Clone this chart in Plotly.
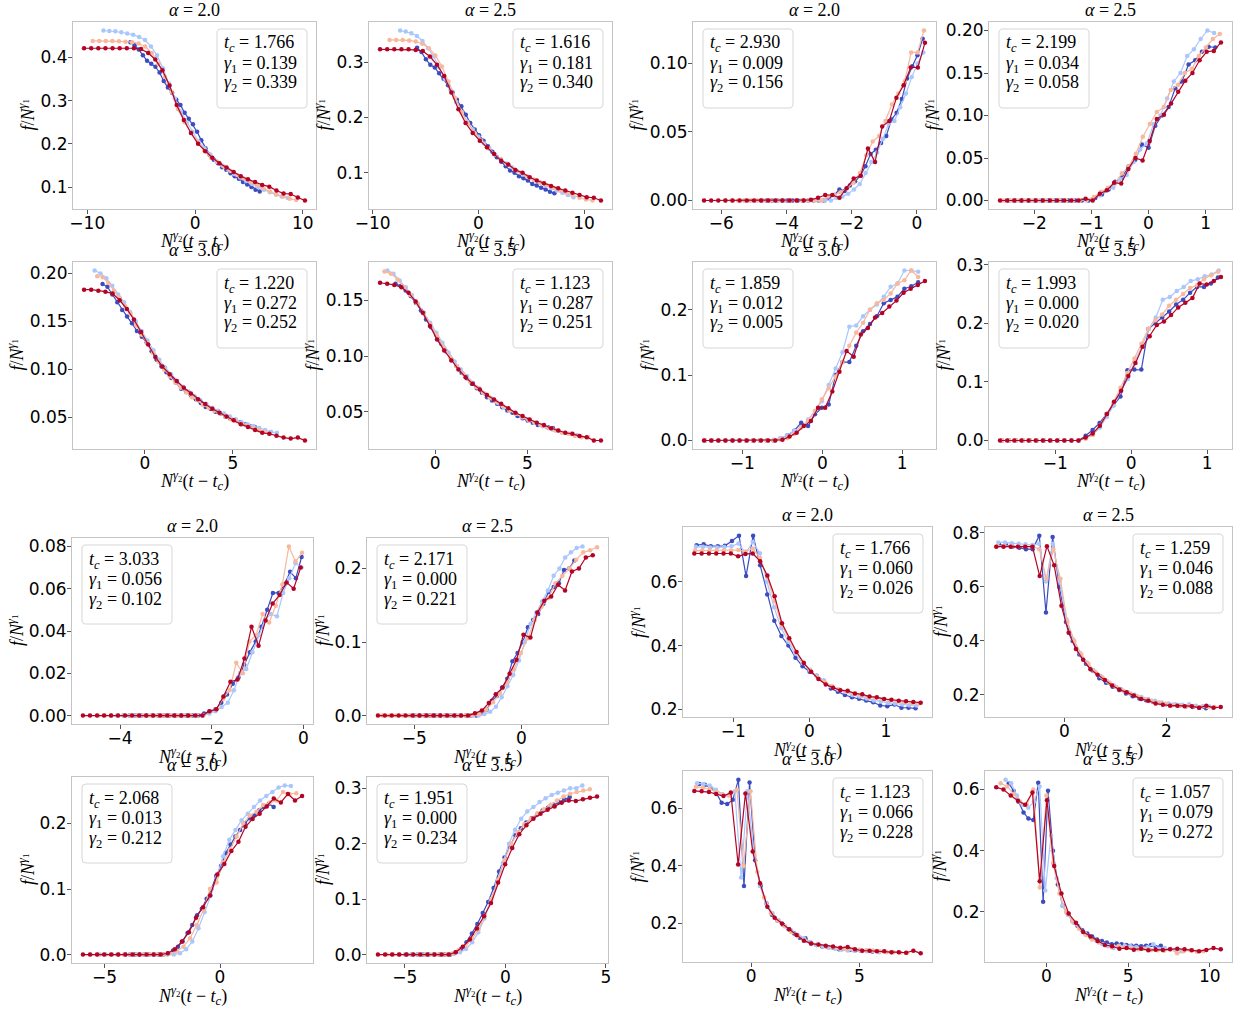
import numpy as np
import plotly.graph_objects as go

# ---------------------------------------------------------------------------
# Scaling-collapse data: f / N^gamma1 against N^gamma2 (t - t_c).
# Each panel holds four system sizes (small -> large).  Every series is
# sampled on a uniform time grid, so its scaled abscissa is given by the
# first/last scaled time in *_spans and the number of samples.
# ---------------------------------------------------------------------------

ALPHAS = ["2.0", "2.5", "3.0", "3.5"]

# ---- group A (top left) ----
a1_params = ("1.766", "0.139", "0.339")
a1_spans = [(-6.0, 6.0), (-8.5, 8.6), (-9.5, 9.4), (-10.3, 10.2)]
a1_d = [0.435, 0.428, 0.418, 0.405, 0.392, 0.385, 0.378, 0.365, 0.345, 0.33, 0.318, 0.302, 0.29, 0.272, 0.258, 0.245,
        0.228, 0.208, 0.19, 0.175, 0.163, 0.155, 0.146, 0.14, 0.132, 0.125, 0.119, 0.112, 0.106, 0.1, 0.094, 0.09]
a1_l = [0.462, 0.461, 0.46, 0.458, 0.455, 0.452, 0.447, 0.44, 0.425, 0.405, 0.375, 0.34, 0.305, 0.275, 0.25, 0.228,
        0.205, 0.19, 0.175, 0.16, 0.15, 0.14, 0.13, 0.122, 0.114, 0.107, 0.1, 0.094, 0.088, 0.083, 0.078, 0.075]
a1_s = [0.438, 0.438, 0.438, 0.438, 0.437, 0.436, 0.435, 0.432, 0.425, 0.41, 0.385, 0.355, 0.32, 0.28, 0.25, 0.225,
        0.205, 0.185, 0.168, 0.158, 0.147, 0.137, 0.128, 0.12, 0.112, 0.104, 0.097, 0.09, 0.083, 0.078, 0.073, 0.07]
a1_r = [0.421, 0.421, 0.421, 0.421, 0.421, 0.421, 0.421, 0.421, 0.419, 0.41, 0.395, 0.37, 0.335, 0.29, 0.255, 0.225,
        0.2, 0.183, 0.168, 0.155, 0.145, 0.135, 0.125, 0.118, 0.112, 0.105, 0.101, 0.092, 0.085, 0.084, 0.076, 0.069]

a2_params = ("1.616", "0.181", "0.340")
a2_spans = [(-5.8, 7.2), (-7.4, 9.0), (-8.4, 10.8), (-9.3, 11.6)]
a2_d = [0.326, 0.318, 0.305, 0.295, 0.29, 0.28, 0.27, 0.258, 0.245, 0.232, 0.22, 0.205, 0.19, 0.178, 0.168, 0.158,
        0.148, 0.138, 0.128, 0.12, 0.112, 0.104, 0.1, 0.094, 0.09, 0.086, 0.08, 0.077, 0.073, 0.07, 0.066, 0.063]
a2_l = [0.357, 0.355, 0.352, 0.347, 0.338, 0.325, 0.31, 0.29, 0.27, 0.25, 0.228, 0.21, 0.192, 0.178, 0.165, 0.153,
        0.143, 0.133, 0.125, 0.117, 0.11, 0.103, 0.097, 0.092, 0.087, 0.082, 0.077, 0.072, 0.068, 0.064, 0.06, 0.056]
a2_s = [0.34, 0.34, 0.34, 0.339, 0.337, 0.333, 0.325, 0.312, 0.292, 0.265, 0.235, 0.21, 0.188, 0.172, 0.158, 0.145,
        0.134, 0.124, 0.116, 0.107, 0.1, 0.094, 0.088, 0.083, 0.078, 0.073, 0.068, 0.064, 0.06, 0.055, 0.052, 0.05]
a2_r = [0.323, 0.323, 0.323, 0.323, 0.323, 0.322, 0.32, 0.31, 0.295, 0.275, 0.245, 0.215, 0.19, 0.172, 0.158, 0.146,
        0.134, 0.122, 0.115, 0.105, 0.1, 0.092, 0.086, 0.081, 0.076, 0.072, 0.068, 0.064, 0.06, 0.056, 0.055, 0.05]

a3_params = ("1.220", "0.272", "0.252")
a3_spans = [(-2.4, 6.24), (-2.85, 7.5), (-2.7, 7.1), (-3.45, 9.09)]
a3_d = [0.189, 0.186, 0.178, 0.17, 0.162, 0.155, 0.148, 0.14, 0.134, 0.128, 0.119, 0.11, 0.103, 0.097, 0.091, 0.086,
        0.08, 0.077, 0.073, 0.069, 0.065, 0.061, 0.059, 0.056, 0.054, 0.051, 0.049, 0.047, 0.045, 0.043, 0.041, 0.04]
a3_l = [0.203, 0.2, 0.195, 0.187, 0.178, 0.17, 0.16, 0.15, 0.14, 0.13, 0.12, 0.11, 0.102, 0.095, 0.088, 0.082,
        0.077, 0.072, 0.068, 0.064, 0.06, 0.057, 0.054, 0.051, 0.048, 0.045, 0.043, 0.041, 0.039, 0.037, 0.035, 0.034]
a3_s = [0.197, 0.196, 0.19, 0.182, 0.175, 0.166, 0.158, 0.146, 0.136, 0.127, 0.117, 0.108, 0.1, 0.093, 0.086, 0.081,
        0.076, 0.071, 0.068, 0.063, 0.06, 0.057, 0.054, 0.051, 0.048, 0.046, 0.043, 0.041, 0.039, 0.037, 0.035, 0.033]
a3_r = [0.183, 0.183, 0.182, 0.181, 0.179, 0.172, 0.163, 0.152, 0.139, 0.126, 0.113, 0.103, 0.095, 0.088, 0.081, 0.075,
        0.069, 0.064, 0.059, 0.055, 0.051, 0.047, 0.043, 0.04, 0.037, 0.034, 0.033, 0.031, 0.029, 0.028, 0.029, 0.026]

a4_params = ("1.123", "0.287", "0.251")
a4_spans = [(-2.16, 6.4), (-2.6, 7.7), (-2.76, 8.3), (-3.0, 9.0)]
a4_d = [0.165, 0.163, 0.159, 0.154, 0.148, 0.141, 0.133, 0.126, 0.119, 0.111, 0.104, 0.097, 0.091, 0.085, 0.08, 0.075,
        0.071, 0.067, 0.063, 0.06, 0.057, 0.054, 0.051, 0.049, 0.046, 0.044, 0.042, 0.04, 0.038, 0.037, 0.036, 0.035]
a4_l = [0.177, 0.174, 0.168, 0.162, 0.155, 0.147, 0.139, 0.13, 0.121, 0.112, 0.103, 0.095, 0.088, 0.082, 0.076, 0.071,
        0.066, 0.062, 0.058, 0.054, 0.051, 0.048, 0.045, 0.043, 0.04, 0.038, 0.036, 0.034, 0.033, 0.031, 0.03, 0.029]
a4_s = [0.176, 0.174, 0.169, 0.162, 0.155, 0.147, 0.138, 0.128, 0.118, 0.108, 0.099, 0.091, 0.084, 0.077, 0.072, 0.067,
        0.063, 0.059, 0.055, 0.051, 0.048, 0.045, 0.042, 0.04, 0.037, 0.035, 0.033, 0.031, 0.03, 0.028, 0.027, 0.027]
a4_r = [0.166, 0.165, 0.164, 0.162, 0.157, 0.149, 0.139, 0.127, 0.115, 0.105, 0.096, 0.088, 0.081, 0.075, 0.07, 0.065,
        0.061, 0.057, 0.053, 0.049, 0.046, 0.043, 0.04, 0.038, 0.035, 0.033, 0.031, 0.03, 0.028, 0.027, 0.024, 0.024]

# ---- group B (top right) ----
b1_params = ("2.930", "0.009", "0.156")
b1_spans = [(-4.77, 0.18), (-5.3, 0.2), (-5.88, 0.22), (-6.53, 0.25)]
b1_d = [0, 0, 0, 0, 0, 0, 0, 0, 0, 0, 0, 0, 0, 0.002, 0.004, 0.008, 0.007, 0.011, 0.014, 0.018, 0.025, 0.034,
        0.037, 0.042, 0.047, 0.059, 0.064, 0.074, 0.089, 0.098, 0.106, 0.118]
b1_l = [0, 0, 0, 0, 0, 0, 0, 0, 0, 0, 0, 0, 0, 0, 0, 0, 0.002, 0.003, 0.005, 0.008, 0.012, 0.02, 0.028, 0.035,
        0.045, 0.056, 0.058, 0.068, 0.078, 0.09, 0.1, 0.108]
b1_s = [0, 0, 0, 0, 0, 0, 0, 0, 0, 0, 0, 0, 0, 0, 0, 0, 0.003, 0.004, 0.006, 0.009, 0.013, 0.02, 0.033, 0.043,
        0.047, 0.058, 0.07, 0.078, 0.087, 0.108, 0.108, 0.124]
b1_r = [0, 0, 0, 0, 0, 0, 0, 0, 0, 0, 0, 0, 0, 0, 0, 0.0005, 0.002, 0.004, 0.004, 0.002, 0.009, 0.016, 0.018,
        0.038, 0.028, 0.054, 0.058, 0.075, 0.084, 0.097, 0.097, 0.115]

b2_params = ("2.199", "0.034", "0.058")
b2_spans = [(-2.45, 1.17), (-2.5, 1.15), (-2.55, 1.25), (-2.6, 1.27)]
b2_d = [0, 0, 0, 0, 0, 0, 0, 0, 0, 0, 0, 0, 0, 0.003, 0.007, 0.013, 0.022, 0.027, 0.04, 0.048, 0.066, 0.062,
        0.088, 0.1, 0.11, 0.132, 0.14, 0.16, 0.165, 0.175, 0.181, 0.18]
b2_l = [0, 0, 0, 0, 0, 0, 0, 0, 0, 0, 0, 0, 0, 0.002, 0.006, 0.012, 0.015, 0.025, 0.03, 0.045, 0.06, 0.067,
        0.09, 0.1, 0.12, 0.14, 0.15, 0.17, 0.178, 0.19, 0.2, 0.197]
b2_s = [0, 0, 0, 0, 0, 0, 0, 0, 0, 0, 0, 0, 0.001, 0.004, 0.01, 0.015, 0.02, 0.032, 0.04, 0.055, 0.075, 0.09,
        0.104, 0.11, 0.13, 0.136, 0.15, 0.155, 0.17, 0.18, 0.19, 0.196]
b2_r = [0, 0, 0, 0, 0, 0, 0, 0, 0, 0, 0, 0, 0.002, 0.0, 0.008, 0.012, 0.021, 0.02, 0.037, 0.05, 0.047, 0.07,
        0.096, 0.101, 0.114, 0.128, 0.141, 0.15, 0.165, 0.175, 0.176, 0.186]

b3_params = ("1.859", "0.012", "0.005")
b3_spans = [(-1.47, 1.2), (-1.47, 1.2), (-1.47, 1.2), (-1.48, 1.285)]
b3_d = [0, 0, 0, 0, 0, 0, 0, 0, 0, 0, 0.0, 0.003, 0.008, 0.015, 0.027, 0.022, 0.04, 0.05, 0.055, 0.1, 0.12, 0.12,
        0.145, 0.167, 0.178, 0.19, 0.21, 0.215, 0.22, 0.232, 0.236, 0.242]
b3_l = [0, 0, 0, 0, 0, 0, 0, 0, 0, 0, 0.001, 0.004, 0.008, 0.015, 0.02, 0.032, 0.045, 0.06, 0.085, 0.11, 0.135,
        0.174, 0.176, 0.19, 0.2, 0.208, 0.22, 0.235, 0.24, 0.26, 0.26, 0.258]
b3_s = [0, 0, 0, 0, 0, 0, 0, 0, 0, 0, 0.0, 0.002, 0.004, 0.01, 0.02, 0.03, 0.045, 0.063, 0.08, 0.098, 0.12, 0.145,
        0.165, 0.18, 0.2, 0.21, 0.215, 0.225, 0.24, 0.245, 0.26, 0.25]
b3_r = [0, 0, 0, 0, 0, 0, 0, 0, 0, 0, 0, 0.001, 0.006, 0.012, 0.022, 0.03, 0.05, 0.05, 0.075, 0.105, 0.137, 0.128,
        0.162, 0.172, 0.188, 0.195, 0.205, 0.214, 0.226, 0.232, 0.238, 0.244]

b4_params = ("1.993", "0.000", "0.020")
b4_spans = [(-1.7, 1.14), (-1.7, 1.15), (-1.7, 1.14), (-1.727, 1.18)]
b4_d = [0, 0, 0, 0, 0, 0, 0, 0, 0, 0, 0, 0, 0.008, 0.018, 0.03, 0.045, 0.06, 0.075, 0.12, 0.121, 0.121, 0.19,
        0.2, 0.21, 0.22, 0.232, 0.24, 0.252, 0.262, 0.262, 0.268, 0.278]
b4_l = [0, 0, 0, 0, 0, 0, 0, 0, 0, 0, 0, 0, 0.004, 0.01, 0.022, 0.04, 0.06, 0.085, 0.105, 0.135, 0.16, 0.19,
        0.21, 0.24, 0.245, 0.255, 0.262, 0.272, 0.275, 0.28, 0.283, 0.29]
b4_s = [0, 0, 0, 0, 0, 0, 0, 0, 0, 0, 0, 0, 0.003, 0.01, 0.025, 0.045, 0.065, 0.09, 0.115, 0.14, 0.165, 0.19,
        0.205, 0.215, 0.23, 0.24, 0.25, 0.26, 0.265, 0.275, 0.282, 0.288]
b4_r = [0, 0, 0, 0, 0, 0, 0, 0, 0, 0, 0, 0, 0.005, 0.012, 0.025, 0.045, 0.066, 0.085, 0.11, 0.132, 0.16, 0.178,
        0.197, 0.203, 0.214, 0.227, 0.235, 0.243, 0.268, 0.266, 0.272, 0.279]

# ---- group C (bottom left) ----
c1_params = ("3.033", "0.056", "0.102")
c1_spans = [(-3.92, -0.04), (-4.2, -0.04), (-4.48, -0.03), (-4.81, -0.06)]
c1_d = [0, 0, 0, 0, 0, 0, 0, 0, 0, 0, 0, 0, 0, 0, 0.001, 0.002, 0.003, 0.006, 0.01, 0.015, 0.018, 0.024, 0.03,
        0.035, 0.042, 0.05, 0.058, 0.058, 0.062, 0.068, 0.065, 0.075]
c1_l = [0, 0, 0, 0, 0, 0, 0, 0, 0, 0, 0, 0, 0, 0, 0, 0, 0.001, 0.002, 0.004, 0.006, 0.012, 0.02, 0.022, 0.03,
        0.038, 0.045, 0.048, 0.047, 0.058, 0.065, 0.072, 0.07]
c1_s = [0, 0, 0, 0, 0, 0, 0, 0, 0, 0, 0, 0, 0, 0, 0, 0, 0, 0.002, 0.003, 0.008, 0.012, 0.025, 0.02, 0.035, 0.038,
        0.048, 0.044, 0.052, 0.062, 0.08, 0.073, 0.077]
c1_r = [0, 0, 0, 0, 0, 0, 0, 0, 0, 0, 0, 0, 0, 0, 0, 0, 0, 0, 0.002, 0.003, 0.009, 0.016, 0.017, 0.027, 0.042,
        0.033, 0.045, 0.053, 0.057, 0.063, 0.06, 0.07]

c2_params = ("2.171", "0.000", "0.221")
c2_spans = [(-5.0, 2.47), (-5.5, 2.85), (-6.5, 3.53), (-6.7, 3.33)]
c2_d = [0, 0, 0, 0, 0, 0, 0, 0, 0, 0, 0, 0, 0, 0.003, 0.008, 0.02, 0.027, 0.038, 0.05, 0.074, 0.085, 0.1, 0.12,
        0.13, 0.138, 0.152, 0.168, 0.175, 0.18, 0.198, 0.2, 0.211]
c2_l = [0, 0, 0, 0, 0, 0, 0, 0, 0, 0, 0, 0, 0, 0, 0.002, 0.005, 0.012, 0.025, 0.04, 0.055, 0.075, 0.1, 0.125,
        0.14, 0.155, 0.17, 0.19, 0.2, 0.215, 0.222, 0.228, 0.23]
c2_s = [0, 0, 0, 0, 0, 0, 0, 0, 0, 0, 0, 0, 0, 0, 0.002, 0.008, 0.018, 0.03, 0.045, 0.063, 0.085, 0.105, 0.13,
        0.148, 0.16, 0.18, 0.19, 0.2, 0.212, 0.222, 0.225, 0.229]
c2_r = [0, 0, 0, 0, 0, 0, 0, 0, 0, 0, 0, 0, 0, 0, 0.003, 0.007, 0.017, 0.029, 0.038, 0.057, 0.076, 0.11, 0.106,
        0.14, 0.156, 0.162, 0.178, 0.17, 0.196, 0.2, 0.215, 0.218]

c3_params = ("2.068", "0.013", "0.212")
c3_spans = [(-4.1, 2.32), (-5.2, 3.07), (-5.6, 3.3), (-5.93, 3.55)]
c3_d = [0, 0, 0, 0, 0, 0, 0, 0, 0, 0.002, 0.006, 0.012, 0.02, 0.033, 0.045, 0.06, 0.07, 0.085, 0.1, 0.12, 0.135,
        0.155, 0.168, 0.18, 0.19, 0.2, 0.208, 0.213, 0.22, 0.225, 0.23, 0.225]
c3_l = [0, 0, 0, 0, 0, 0, 0, 0, 0, 0, 0, 0, 0, 0.002, 0.008, 0.02, 0.04, 0.065, 0.09, 0.12, 0.15, 0.175, 0.19,
        0.205, 0.215, 0.225, 0.235, 0.242, 0.248, 0.255, 0.258, 0.257]
c3_s = [0, 0, 0, 0, 0, 0, 0, 0, 0, 0, 0, 0, 0.002, 0.005, 0.012, 0.025, 0.045, 0.068, 0.1, 0.11, 0.14, 0.16, 0.18,
        0.2, 0.212, 0.218, 0.228, 0.232, 0.235, 0.248, 0.245, 0.246]
c3_r = [0, 0, 0, 0, 0, 0, 0, 0, 0, 0, 0, 0, 0.002, 0.008, 0.02, 0.034, 0.056, 0.072, 0.09, 0.122, 0.138, 0.158,
        0.172, 0.195, 0.207, 0.215, 0.226, 0.238, 0.232, 0.245, 0.235, 0.242]

c4_params = ("1.951", "0.000", "0.234")
c4_spans = [(-4.9, 3.2), (-5.6, 3.83), (-5.9, 4.2), (-6.33, 4.56)]
c4_d = [0, 0, 0, 0, 0, 0, 0, 0, 0, 0.004, 0.01, 0.022, 0.038, 0.055, 0.075, 0.095, 0.12, 0.15, 0.175, 0.195,
        0.215, 0.228, 0.238, 0.246, 0.252, 0.26, 0.265, 0.27, 0.275, 0.28, 0.284]
c4_l = [0, 0, 0, 0, 0, 0, 0, 0, 0, 0, 0.001, 0.004, 0.01, 0.022, 0.04, 0.065, 0.095, 0.128, 0.165, 0.2, 0.225,
        0.245, 0.258, 0.266, 0.275, 0.282, 0.288, 0.292, 0.296, 0.3, 0.3, 0.305]
c4_s = [0, 0, 0, 0, 0, 0, 0, 0, 0, 0, 0.002, 0.008, 0.016, 0.028, 0.045, 0.07, 0.1, 0.135, 0.17, 0.2, 0.22,
        0.235, 0.245, 0.255, 0.262, 0.27, 0.278, 0.285, 0.29, 0.293, 0.296, 0.298]
c4_r = [0, 0, 0, 0, 0, 0, 0, 0, 0, 0, 0, 0.004, 0.014, 0.027, 0.047, 0.069, 0.093, 0.13, 0.163, 0.192, 0.217,
        0.233, 0.245, 0.254, 0.261, 0.267, 0.274, 0.278, 0.277, 0.28, 0.283, 0.285]

# ---- group D (bottom right) ----
d1_params = ("1.766", "0.060", "0.026")
d1_spans = [(-1.48, 1.39), (-1.49, 1.4), (-1.5, 1.43), (-1.51, 1.457)]
d1_d = [0.715, 0.718, 0.712, 0.712, 0.713, 0.728, 0.745, 0.618, 0.745, 0.652, 0.56, 0.478, 0.43, 0.4, 0.362, 0.335,
        0.318, 0.305, 0.29, 0.265, 0.255, 0.245, 0.238, 0.233, 0.228, 0.222, 0.212, 0.21, 0.215, 0.205, 0.205, 0.203]
d1_l = [0.71, 0.71, 0.708, 0.708, 0.709, 0.712, 0.72, 0.69, 0.725, 0.69, 0.6, 0.52, 0.455, 0.412, 0.375, 0.345,
        0.325, 0.305, 0.29, 0.272, 0.262, 0.254, 0.245, 0.24, 0.234, 0.228, 0.225, 0.22, 0.218, 0.215, 0.213, 0.212]
d1_s = [0.698, 0.698, 0.698, 0.698, 0.698, 0.698, 0.7, 0.695, 0.705, 0.675, 0.615, 0.54, 0.465, 0.42, 0.38, 0.348,
        0.322, 0.3, 0.285, 0.272, 0.262, 0.255, 0.248, 0.243, 0.238, 0.235, 0.232, 0.228, 0.225, 0.222, 0.22, 0.218]
d1_r = [0.689, 0.689, 0.689, 0.689, 0.689, 0.689, 0.68, 0.687, 0.689, 0.665, 0.62, 0.555, 0.47, 0.423, 0.38, 0.345,
        0.318, 0.295, 0.278, 0.268, 0.26, 0.258, 0.25, 0.247, 0.24, 0.238, 0.232, 0.23, 0.227, 0.225, 0.223, 0.221]

d2_params = ("1.259", "0.046", "0.088")
d2_spans = [(-1.28, 2.78), (-1.3, 2.85), (-1.32, 2.95), (-1.34, 3.07)]
d2_d = [0.755, 0.755, 0.75, 0.745, 0.74, 0.74, 0.79, 0.505, 0.785, 0.6, 0.47, 0.4, 0.35, 0.315, 0.29, 0.262,
        0.245, 0.23, 0.218, 0.205, 0.195, 0.187, 0.18, 0.175, 0.17, 0.165, 0.162, 0.16, 0.158, 0.155, 0.152, 0.15]
d2_l = [0.765, 0.765, 0.762, 0.76, 0.758, 0.755, 0.76, 0.62, 0.76, 0.62, 0.48, 0.405, 0.355, 0.32, 0.29, 0.27,
        0.25, 0.235, 0.222, 0.21, 0.2, 0.192, 0.185, 0.178, 0.172, 0.168, 0.165, 0.163, 0.165, 0.16, 0.158, 0.157]
d2_s = [0.752, 0.752, 0.752, 0.75, 0.75, 0.75, 0.74, 0.63, 0.74, 0.63, 0.47, 0.4, 0.35, 0.315, 0.285, 0.265,
        0.245, 0.228, 0.215, 0.205, 0.195, 0.185, 0.178, 0.172, 0.167, 0.163, 0.16, 0.158, 0.158, 0.155, 0.155, 0.155]
d2_r = [0.749, 0.749, 0.749, 0.749, 0.749, 0.749, 0.64, 0.751, 0.68, 0.53, 0.43, 0.37, 0.33, 0.295, 0.275, 0.255,
        0.235, 0.22, 0.21, 0.198, 0.185, 0.178, 0.168, 0.163, 0.16, 0.16, 0.158, 0.158, 0.152, 0.16, 0.152, 0.155]

d3_params = ("1.123", "0.066", "0.228")
d3_spans = [(-2.4, 5.6), (-2.5, 6.5), (-2.55, 7.2), (-2.63, 7.83)]
d3_d = [0.685, 0.682, 0.672, 0.655, 0.62, 0.615, 0.63, 0.7, 0.33, 0.69, 0.42, 0.33, 0.27, 0.23, 0.21, 0.195,
        0.18, 0.165, 0.15, 0.148, 0.13, 0.125, 0.12, 0.118, 0.115, 0.11, 0.112, 0.108, 0.107, 0.105, 0.105, 0.102]
d3_l = [0.688, 0.685, 0.68, 0.665, 0.65, 0.645, 0.66, 0.36, 0.66, 0.45, 0.33, 0.27, 0.235, 0.21, 0.19, 0.175,
        0.16, 0.148, 0.135, 0.125, 0.12, 0.115, 0.112, 0.108, 0.106, 0.105, 0.104, 0.103, 0.105, 0.1, 0.102, 0.1]
d3_s = [0.675, 0.672, 0.668, 0.658, 0.648, 0.645, 0.665, 0.4, 0.66, 0.38, 0.29, 0.235, 0.21, 0.19, 0.17, 0.155,
        0.14, 0.13, 0.125, 0.12, 0.117, 0.113, 0.11, 0.11, 0.108, 0.106, 0.105, 0.103, 0.1, 0.1, 0.098, 0.097]
d3_r = [0.661, 0.66, 0.657, 0.65, 0.643, 0.655, 0.405, 0.652, 0.45, 0.34, 0.258, 0.22, 0.2, 0.18, 0.16, 0.14,
        0.13, 0.127, 0.122, 0.12, 0.115, 0.118, 0.11, 0.105, 0.105, 0.103, 0.103, 0.1, 0.1, 0.098, 0.105, 0.096]

d4_params = ("1.057", "0.079", "0.272")
d4_spans = [(-2.3, 7.0), (-2.5, 8.28), (-2.8, 9.6), (-3.07, 10.67)]
d4_d = [0.62, 0.595, 0.56, 0.525, 0.505, 0.5, 0.622, 0.233, 0.596, 0.4, 0.29, 0.22, 0.195, 0.17, 0.155, 0.14,
        0.13, 0.12, 0.11, 0.105, 0.1, 0.095, 0.097, 0.095, 0.092, 0.09, 0.09, 0.088, 0.09, 0.092, 0.085, 0.09]
d4_l = [0.632, 0.62, 0.58, 0.55, 0.54, 0.56, 0.61, 0.27, 0.45, 0.31, 0.22, 0.19, 0.165, 0.148, 0.13, 0.115,
        0.105, 0.095, 0.088, 0.082, 0.09, 0.09, 0.088, 0.085, 0.08, 0.085, 0.095, 0.08, 0.082, 0.08, 0.075, 0.072]
d4_s = [0.62, 0.61, 0.585, 0.56, 0.55, 0.6, 0.28, 0.58, 0.36, 0.26, 0.2, 0.17, 0.145, 0.125, 0.11, 0.1,
        0.092, 0.085, 0.088, 0.085, 0.082, 0.078, 0.08, 0.076, 0.075, 0.073, 0.078, 0.065, 0.072, 0.075, 0.07, 0.072]
d4_r = [0.607, 0.6, 0.58, 0.563, 0.55, 0.59, 0.3, 0.565, 0.35, 0.26, 0.195, 0.165, 0.135, 0.12, 0.105, 0.092,
        0.088, 0.08, 0.082, 0.077, 0.08, 0.075, 0.077, 0.076, 0.078, 0.08, 0.078, 0.075, 0.072, 0.076, 0.082, 0.078]

# ---------------------------------------------------------------------------
# Figure layout
# ---------------------------------------------------------------------------
W, H = 1242, 1011
COLORS = ["#3b4cc0", "#aac7fd", "#f7b89c", "#b40426"]   # coolwarm, small N -> large N
SERIF = "Liberation Serif"
SANS = "DejaVu Sans"
FRAME = "#c4c4c4"
TICK = "#555555"

# panel frames in pixels: (left, right) per column, (top, bottom) per row
GROUPS = {
    "a": dict(cols=[(73, 316), (369, 612)], rows=[(22, 209), (262, 449)], box="right"),
    "b": dict(cols=[(693, 936), (989, 1232)], rows=[(22, 209), (262, 449)], box="left"),
    "c": dict(cols=[(72, 313), (367, 608)], rows=[(538, 724), (777, 963)], box="left"),
    "d": dict(cols=[(683, 932), (985, 1232)], rows=[(527, 717), (771, 962)], box="right"),
}

TICKS = {
    "a1": ([-10, 0, 10], [0.1, 0.2, 0.3, 0.4], 1),
    "a2": ([-10, 0, 10], [0.1, 0.2, 0.3], 1),
    "a3": ([0, 5], [0.05, 0.10, 0.15, 0.20], 2),
    "a4": ([0, 5], [0.05, 0.10, 0.15], 2),
    "b1": ([-6, -4, -2, 0], [0.0, 0.05, 0.10], 2),
    "b2": ([-2, -1, 0, 1], [0.0, 0.05, 0.10, 0.15, 0.20], 2),
    "b3": ([-1, 0, 1], [0.0, 0.1, 0.2], 1),
    "b4": ([-1, 0, 1], [0.0, 0.1, 0.2, 0.3], 1),
    "c1": ([-4, -2, 0], [0.0, 0.02, 0.04, 0.06, 0.08], 2),
    "c2": ([-5, 0], [0.0, 0.1, 0.2], 1),
    "c3": ([-5, 0], [0.0, 0.1, 0.2], 1),
    "c4": ([-5, 0, 5], [0.0, 0.1, 0.2, 0.3], 1),
    "d1": ([-1, 0, 1], [0.2, 0.4, 0.6], 1),
    "d2": ([0, 2], [0.2, 0.4, 0.6, 0.8], 1),
    "d3": ([0, 5], [0.2, 0.4, 0.6], 1),
    "d4": ([0, 5, 10], [0.2, 0.4, 0.6], 1),
}

DATA = {
    "a1": (a1_params, a1_spans, [a1_d, a1_l, a1_s, a1_r]),
    "a2": (a2_params, a2_spans, [a2_d, a2_l, a2_s, a2_r]),
    "a3": (a3_params, a3_spans, [a3_d, a3_l, a3_s, a3_r]),
    "a4": (a4_params, a4_spans, [a4_d, a4_l, a4_s, a4_r]),
    "b1": (b1_params, b1_spans, [b1_d, b1_l, b1_s, b1_r]),
    "b2": (b2_params, b2_spans, [b2_d, b2_l, b2_s, b2_r]),
    "b3": (b3_params, b3_spans, [b3_d, b3_l, b3_s, b3_r]),
    "b4": (b4_params, b4_spans, [b4_d, b4_l, b4_s, b4_r]),
    "c1": (c1_params, c1_spans, [c1_d, c1_l, c1_s, c1_r]),
    "c2": (c2_params, c2_spans, [c2_d, c2_l, c2_s, c2_r]),
    "c3": (c3_params, c3_spans, [c3_d, c3_l, c3_s, c3_r]),
    "c4": (c4_params, c4_spans, [c4_d, c4_l, c4_s, c4_r]),
    "d1": (d1_params, d1_spans, [d1_d, d1_l, d1_s, d1_r]),
    "d2": (d2_params, d2_spans, [d2_d, d2_l, d2_s, d2_r]),
    "d3": (d3_params, d3_spans, [d3_d, d3_l, d3_s, d3_r]),
    "d4": (d4_params, d4_spans, [d4_d, d4_l, d4_s, d4_r]),
}

XLABEL = "<i>N</i><sup><i>γ</i><sub>2</sub></sup>(<i>t</i> − <i>t</i><sub><i>c</i></sub>)"
YLABEL = "<i>f</i>/<i>N</i><sup><i>γ</i><sub>1</sub></sup>"


def px(x):
    return x / W


def py(y):
    return 1 - y / H


def tick_text(v, nd):
    s = f"{abs(v):.{nd}f}"
    return "\u2212" + s if v < 0 else s


def rounded_path(l, t, r, b, rad=4):
    def p(x, y):
        return f"{px(x):.6f},{py(y):.6f}"
    return (f"M {p(l + rad, t)} L {p(r - rad, t)} Q {p(r, t)} {p(r, t + rad)} "
            f"L {p(r, b - rad)} Q {p(r, b)} {p(r - rad, b)} L {p(l + rad, b)} "
            f"Q {p(l, b)} {p(l, b - rad)} L {p(l, t + rad)} Q {p(l, t)} {p(l + rad, t)} Z")


fig = go.Figure()
annotations, shapes = [], []
layout_axes = {}

n = 0
for g, geo in GROUPS.items():
    for k in range(4):
        n += 1
        key = f"{g}{k + 1}"
        params, spans, series = DATA[key]
        xt, yt, ynd = TICKS[key]
        L, R = geo["cols"][k % 2]
        T, B = geo["rows"][k // 2]
        xr = "x" if n == 1 else f"x{n}"
        yr = "y" if n == 1 else f"y{n}"

        xs_all, ys_all = [], []
        for ys, (lo, hi), col in zip(series, spans, COLORS):
            xs = np.linspace(lo, hi, len(ys))   # uniform time grid, rescaled
            xs_all += [lo, hi]
            ys_all += list(ys)
            fig.add_trace(go.Scatter(
                x=xs, y=ys, mode="lines+markers", xaxis=xr, yaxis=yr,
                line=dict(color=col, width=1.2), marker=dict(color=col, size=4.5),
                showlegend=False, hoverinfo="skip"))

        x0, x1 = min(xs_all), max(xs_all)
        y0, y1 = min(ys_all), max(ys_all)
        mx, my = 0.05 * (x1 - x0), 0.05 * (y1 - y0)

        common = dict(showgrid=False, zeroline=False, showline=True, mirror=True,
                      linecolor=FRAME, linewidth=1, ticks="outside", ticklen=4,
                      tickcolor=TICK, tickwidth=1, automargin=False,
                      tickfont=dict(family=SANS, size=17, color="black"))
        ytxt = [tick_text(v, ynd) for v in yt]
        layout_axes["xaxis" if n == 1 else f"xaxis{n}"] = dict(
            domain=[px(L), px(R)], anchor=yr, range=[x0 - mx, x1 + mx], ticklabelstandoff=-5,
            tickmode="array", tickvals=xt, ticktext=[tick_text(v, 0) for v in xt], **common)
        layout_axes["yaxis" if n == 1 else f"yaxis{n}"] = dict(
            domain=[py(B), py(T)], anchor=xr, range=[y0 - my, y1 + my], ticklabelstandoff=-3,
            tickmode="array", tickvals=yt, ticktext=ytxt, **common)

        # panel title
        annotations.append(dict(x=px((L + R) / 2), y=py(T - 12), xref="paper", yref="paper",
                                text=f"<i>α</i> = {ALPHAS[k]}", showarrow=False,
                                xanchor="center", yanchor="middle",
                                font=dict(family=SERIF, size=18, color="black")))
        # axis labels
        annotations.append(dict(x=px((L + R) / 2), y=py(B + 32), xref="paper", yref="paper",
                                text=XLABEL, showarrow=False, xanchor="center", yanchor="middle",
                                font=dict(family=SERIF, size=18, color="black")))
        off = 57 if max(len(s) for s in ytxt) >= 4 else 46
        annotations.append(dict(x=px(L - off), y=py((T + B) / 2), xref="paper", yref="paper",
                                text=YLABEL, showarrow=False, textangle=-90,
                                xanchor="center", yanchor="middle",
                                font=dict(family=SERIF, size=18, color="black")))

        # parameter box
        bw, bh = 90, 79
        if geo["box"] == "right":
            bl = R - 9 - bw
        else:
            bl = L + 10
        bt = T + 7
        shapes.append(dict(type="path", path=rounded_path(bl, bt, bl + bw, bt + bh),
                           xref="paper", yref="paper", line=dict(color="#d6d6d6", width=1),
                           fillcolor="rgba(255,255,255,0.85)", layer="above"))
        lines = [f"<i>t</i><sub><i>c</i></sub> = {params[0]}",
                 f"<i>γ</i><sub>1</sub> = {params[1]}",
                 f"<i>γ</i><sub>2</sub> = {params[2]}"]
        for j, txt in enumerate(lines):
            annotations.append(dict(x=px(bl + 5), y=py(bt + 15 + 20 * j), xref="paper", yref="paper",
                                    text=txt, showarrow=False, xanchor="left", yanchor="middle",
                                    font=dict(family=SERIF, size=18, color="black")))

fig.update_layout(
    width=W, height=H, margin=dict(l=0, r=0, t=0, b=0, pad=0, autoexpand=False),
    paper_bgcolor="white", plot_bgcolor="white",
    annotations=annotations, shapes=shapes, **layout_axes)

fig.write_html("out.html")
